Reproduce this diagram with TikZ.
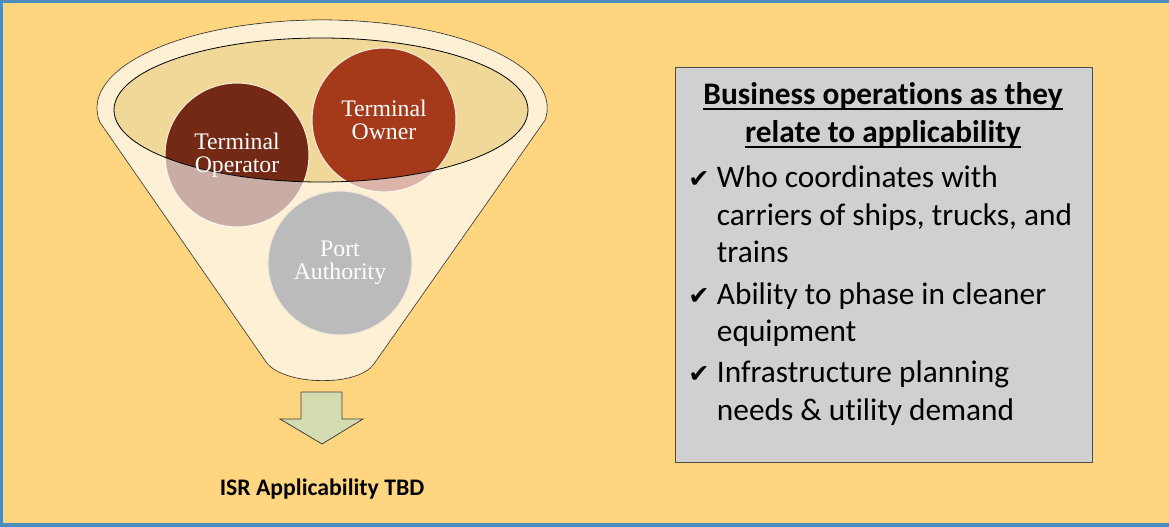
\documentclass[tikz,border=0pt]{standalone}
\usepackage{fontspec}
\setmainfont{Carlito}[Ligatures=NoCommon]
\newfontfamily\discfont{Liberation Serif}
\newfontfamily\tickfont{DejaVu Sans}
\definecolor{framebl}{HTML}{4A8CBB}
\definecolor{sandbg}{HTML}{FFD580}
\definecolor{funnelbase}{HTML}{FCD88E}
\definecolor{rimtan}{HTML}{F0D898}
\definecolor{operbrown}{HTML}{732914}
\definecolor{ownerrust}{HTML}{A53A1B}
\definecolor{portgray}{HTML}{BBBBBB}
\definecolor{discedge}{HTML}{F6E9DA}
\definecolor{panelgray}{HTML}{D0D0D0}
\definecolor{arrowgreen}{HTML}{D3DBB0}
\tikzset{
    disc/.style={circle,inner sep=0pt,minimum size=108pt,draw=discedge,line width=0.8pt},
    disclabel/.style={align=center,text=white,inner sep=0pt,font=\discfont\fontsize{17.8}{17.3}\selectfont},
    panel/.style={draw=black!70,fill=panelgray,line width=0.6pt,minimum width=312.75pt,minimum height=296.25pt},
    paneltitle/.style={align=center,inner sep=0pt,font=\bfseries\fontsize{23.5}{28.5}\selectfont}
}
\newcommand{\tickmark}{{\tickfont\fontsize{19}{19}\selectfont ✔}}
\newcommand{\ulbar}[1]{\setbox0\hbox{#1}\rlap{\rule[-4pt]{\wd0}{1.4pt}}\box0}
\begin{document}
\begin{tikzpicture}[x=0.75pt,y=-0.75pt]
    %% frame and background
    \fill[sandbg] (0,0) rectangle (1169,527);
    \fill[framebl] (0,0) rectangle (1169,3);
    \fill[framebl] (0,0) rectangle (3,527);
    \fill[framebl] (0,523) rectangle (1169,527);
    \useasboundingbox (0,0) rectangle (1169,527);
    %% funnel body
    \draw[fill=funnelbase,line width=0.6pt] (545,120) arc[start angle=7.8,end angle=-189.2,x radius=225,y radius=88]
        -- (267,363) .. controls (285,385) and (355,387) .. (373,365) -- cycle;
    \fill[rimtan] (321,110) ellipse[x radius=207,y radius=72];
    %% circles in the funnel
    \node[disc,fill=operbrown] (oper) at (237,155) {};
    \node[disc,fill=ownerrust] (owner) at (384,120) {};
    \fill[white,opacity=0.62,even odd rule] (545,120) arc[start angle=7.8,end angle=-189.2,x radius=225,y radius=88]
        -- (267,363) .. controls (285,385) and (355,387) .. (373,365) -- cycle
        (321,110) ellipse[x radius=207,y radius=72];
    \node[disc,fill=portgray] (port) at (340,263) {};
    \draw[line width=0.6pt] (321,110) ellipse[x radius=207,y radius=72];
    \node[disclabel] (operlabel) at (oper) {Terminal\\Operator};
    \node[disclabel] (ownerlabel) at (owner) {Terminal\\Owner};
    \node[disclabel] (portlabel) at (port) {Port\\Authority};
    %% down arrow and result
    \draw[fill=arrowgreen,draw=black!75,line width=0.6pt] (301,392) -- (342,392) -- (342,419) -- (363,419)
        -- (322,444) -- (280,419) -- (301,419) -- cycle;
    \node[anchor=base,inner sep=0pt,font=\bfseries\fontsize{17.8}{20}\selectfont] (isr) at (322,495) {ISR Applicability TBD};
    %% business operations panel
    \node[panel] (ops) at (883.5,264.5) {};
    \node[paneltitle,anchor=base] (opstitle) at (883,143) {\ulbar{Business operations as they}\\\ulbar{relate to applicability}};
    \node[anchor=base west,inner sep=0pt,font=\fontsize{23.5}{28.1}\selectfont] (opslist) at (688,188) {%
        \begin{tabular}[t]{@{}p{21.5pt}@{}l@{}}
            \tickmark & Who coordinates with\\
                      & carriers of ships, trucks, and\\
                      & trains\\[3pt]
            \tickmark & Ability to phase in cleaner\\
                      & equipment\\[2.5pt]
            \tickmark & Infrastructure planning\\
                      & needs \& utility demand
        \end{tabular}};
\end{tikzpicture}
\end{document}
